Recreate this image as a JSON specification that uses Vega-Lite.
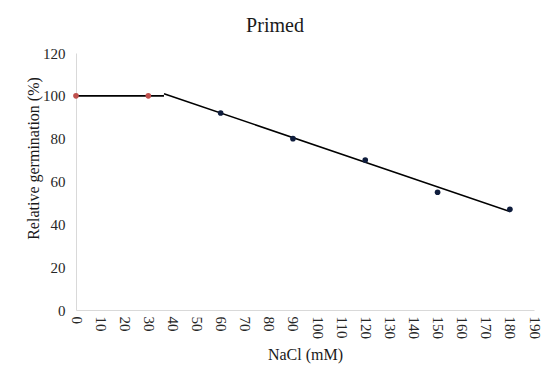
{
  "$schema": "https://vega.github.io/schema/vega-lite/v6.json",
  "width": 458,
  "height": 257,
  "autosize": {"type": "none"},
  "padding": {"left": 76, "top": 53, "right": 16, "bottom": 76},
  "background": "white",
  "title": {
    "text": "Primed",
    "font": "Liberation Serif",
    "fontSize": 20,
    "fontWeight": "normal",
    "color": "#1a1a1a",
    "anchor": "middle",
    "dx": -30,
    "offset": 10
  },
  "config": {
    "view": {"stroke": null},
    "axis": {
      "grid": false,
      "ticks": false,
      "domainColor": "#d9d9d9",
      "domainWidth": 1,
      "labelFont": "Liberation Serif",
      "labelFontSize": 15,
      "labelColor": "#262626",
      "titleFont": "Liberation Serif",
      "titleFontSize": 16,
      "titleFontWeight": "normal",
      "titleColor": "#1a1a1a"
    }
  },
  "datasets": {
    "pts": [
      {"nacl": 0, "germ": 100, "series": "low"},
      {"nacl": 30, "germ": 100, "series": "low"},
      {"nacl": 60, "germ": 92, "series": "high"},
      {"nacl": 90, "germ": 80, "series": "high"},
      {"nacl": 120, "germ": 70, "series": "high"},
      {"nacl": 150, "germ": 55, "series": "high"},
      {"nacl": 180, "germ": 47, "series": "high"}
    ],
    "fit": [
      {"nacl": 0, "germ": 100, "seg": "flat"},
      {"nacl": 36.5, "germ": 100, "seg": "flat"},
      {"nacl": 36.5, "germ": 101, "seg": "slope"},
      {"nacl": 180, "germ": 46, "seg": "slope"}
    ]
  },
  "resolve": {"axis": {"x": "shared", "y": "shared"}},
  "layer": [
    {
      "data": {"name": "fit"},
      "mark": {"type": "line", "color": "black", "strokeWidth": 1.6},
      "encoding": {
        "x": {"field": "nacl", "type": "quantitative",
              "scale": {"domain": [0, 190], "nice": false},
              "axis": {"values": [0,10,20,30,40,50,60,70,80,90,100,110,120,130,140,150,160,170,180,190],
                       "labelOverlap": false, "labelFlush": false, "labelBound": false,
                       "labelAngle": 90, "labelAlign": "left", "labelBaseline": "middle",
                       "labelPadding": 6, "title": "NaCl (mM)", "titlePadding": 8}},
        "y": {"field": "germ", "type": "quantitative",
              "scale": {"domain": [0, 120], "nice": false},
              "axis": {"values": [0,20,40,60,80,100,120], "labelPadding": 11,
                       "labelOverlap": false,
                       "title": "Relative germination (%)",
                       "titleX": -43, "titleY": 105, "titleAngle": -90,
                       "titleAlign": "center", "titleBaseline": "middle"}},
        "detail": {"field": "seg"}
      }
    },
    {
      "data": {"name": "pts"},
      "mark": {"type": "point", "filled": true, "opacity": 1, "size": 32},
      "encoding": {
        "x": {"field": "nacl", "type": "quantitative",
              "axis": {"values": [0,10,20,30,40,50,60,70,80,90,100,110,120,130,140,150,160,170,180,190],
                       "labelOverlap": false, "labelFlush": false, "labelBound": false,
                       "labelAngle": 90, "labelAlign": "left", "labelBaseline": "middle",
                       "labelPadding": 6, "title": "NaCl (mM)", "titlePadding": 8}},
        "y": {"field": "germ", "type": "quantitative"},
        "color": {"field": "series", "type": "nominal",
                  "scale": {"domain": ["low", "high"], "range": ["#c0504d", "#0f1d3d"]},
                  "legend": null}
      }
    }
  ]
}
